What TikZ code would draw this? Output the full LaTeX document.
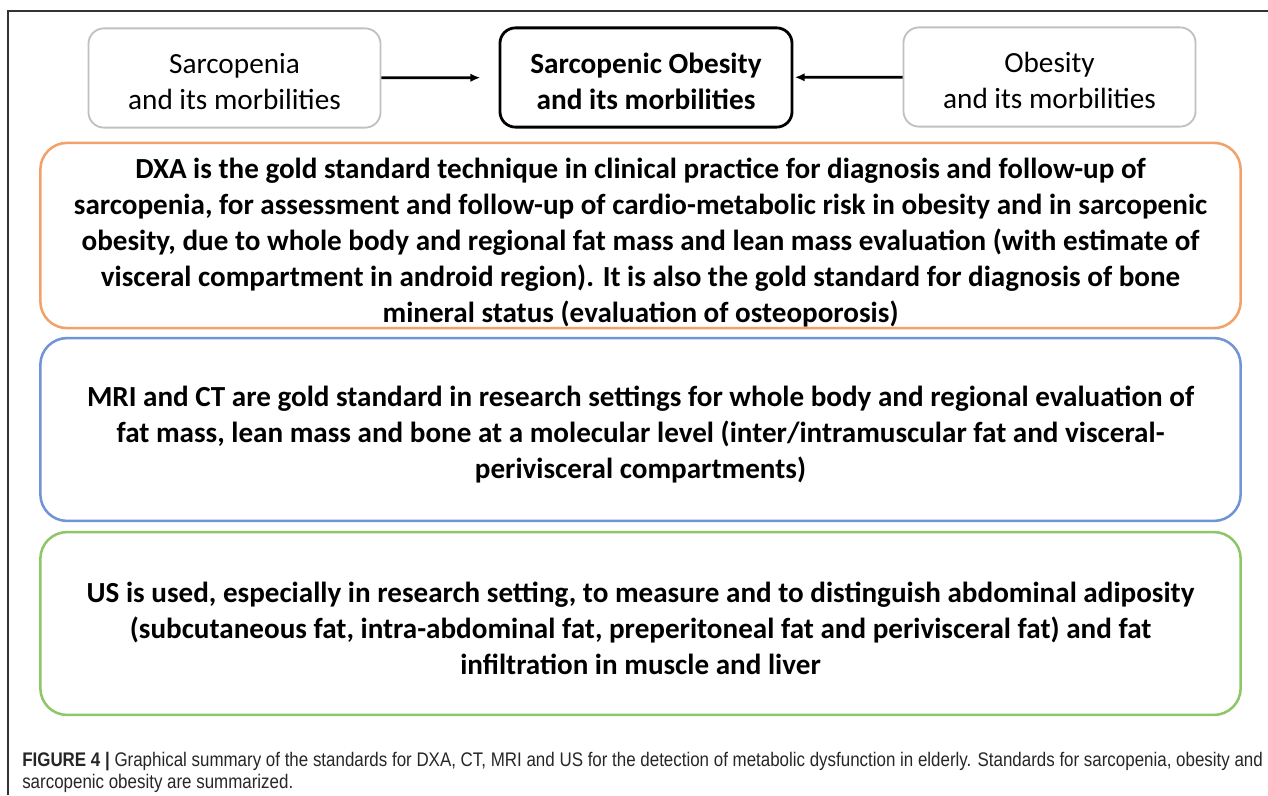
\documentclass[tikz,border=0pt]{standalone}
\usepackage{fontspec}
\setmainfont{Carlito}
\newfontfamily\capfont[FakeStretch=0.86]{Liberation Sans}
\usepackage{xcolor}
\usepackage{tikz}
\usetikzlibrary{positioning,arrows.meta}
\definecolor{boxgray}{RGB}{192,192,192}
\definecolor{dxaorange}{RGB}{242,162,104}
\definecolor{mriblue}{RGB}{112,148,214}
\definecolor{usgreen}{RGB}{142,199,104}

\begin{document}
\begin{tikzpicture}[x=0.025cm,y=-0.025cm,
    top node/.style={draw=boxgray,line width=1.3pt,rounded corners=11pt,minimum width=7.3cm,minimum height=2.48cm,align=center,text height=45pt,font=\fontsize{20.8}{25.6}\selectfont},
    main node/.style={top node,draw=black,line width=2pt,font=\bfseries\fontsize{20.8}{25.6}\selectfont},
    text box/.style={rounded corners=19pt,line width=1.8pt,minimum width=30cm,minimum height=4.57cm,align=center,font=\bfseries\fontsize{20.7}{25.6}\selectfont},
    link/.style={-{Latex[length=7pt,width=6pt]},line width=2pt}]
\useasboundingbox (0,0) rectangle (1268,795);

% frame
\draw[line width=0.8pt,black!80] (8,795) -- (8,11) -- (1268,11);

% top row
\node [top node] (Sarc) at (234.5,78) {Sarcopenia\\and its morbilities};
\node [main node] (SarcOb) at (646,77.5) {Sarcopenic Obesity\\and its morbilities};
\node [top node] (Ob) at (1049.5,77) {Obesity\\and its morbilities};

\draw[link,shorten >=13pt] (Sarc) -- (SarcOb);
\draw[link,shorten >=1pt] (Ob) -- (SarcOb);

% standards
\node [text box,draw=dxaorange,minimum height=4.63cm,text height=124.2pt,text depth=0pt] (DXA) at (640.5,235.5) {DXA is the gold standard technique in clinical practice for diagnosis and follow-up of\\
sarcopenia, for assessment and follow-up of cardio-metabolic risk in obesity and in sarcopenic\\
obesity, due to whole body and regional fat mass and lean mass evaluation (with estimate of\\
visceral compartment in android region). It is also the gold standard for diagnosis of bone\\
mineral status (evaluation of osteoporosis)};

\node [text box,draw=mriblue,text height=73.3pt] (MRI) at (640.5,429.5) {MRI and CT are gold standard in research settings for whole body and regional evaluation of\\
fat mass, lean mass and bone at a molecular level (inter/intramuscular fat and visceral-\\
perivisceral compartments)};

\node [text box,draw=usgreen,text height=72.6pt] (US) at (640.5,623.5) {US is used, especially in research setting, to measure and to distinguish abdominal adiposity\\
(subcutaneous fat, intra-abdominal fat, preperitoneal fat and perivisceral fat) and fat\\
infiltration in muscle and liver};

% caption
\node [anchor=base west,inner sep=0pt,align=left,font=\capfont\fontsize{14}{15.6}\selectfont,text=black!85] (Caption) at (22,788) {{\bfseries FIGURE 4} {\bfseries|} Graphical summary of the standards for DXA, CT, MRI and US for the detection of metabolic dysfunction in elderly. Standards for sarcopenia, obesity and\\
sarcopenic obesity are summarized.};

\end{tikzpicture}
\end{document}
